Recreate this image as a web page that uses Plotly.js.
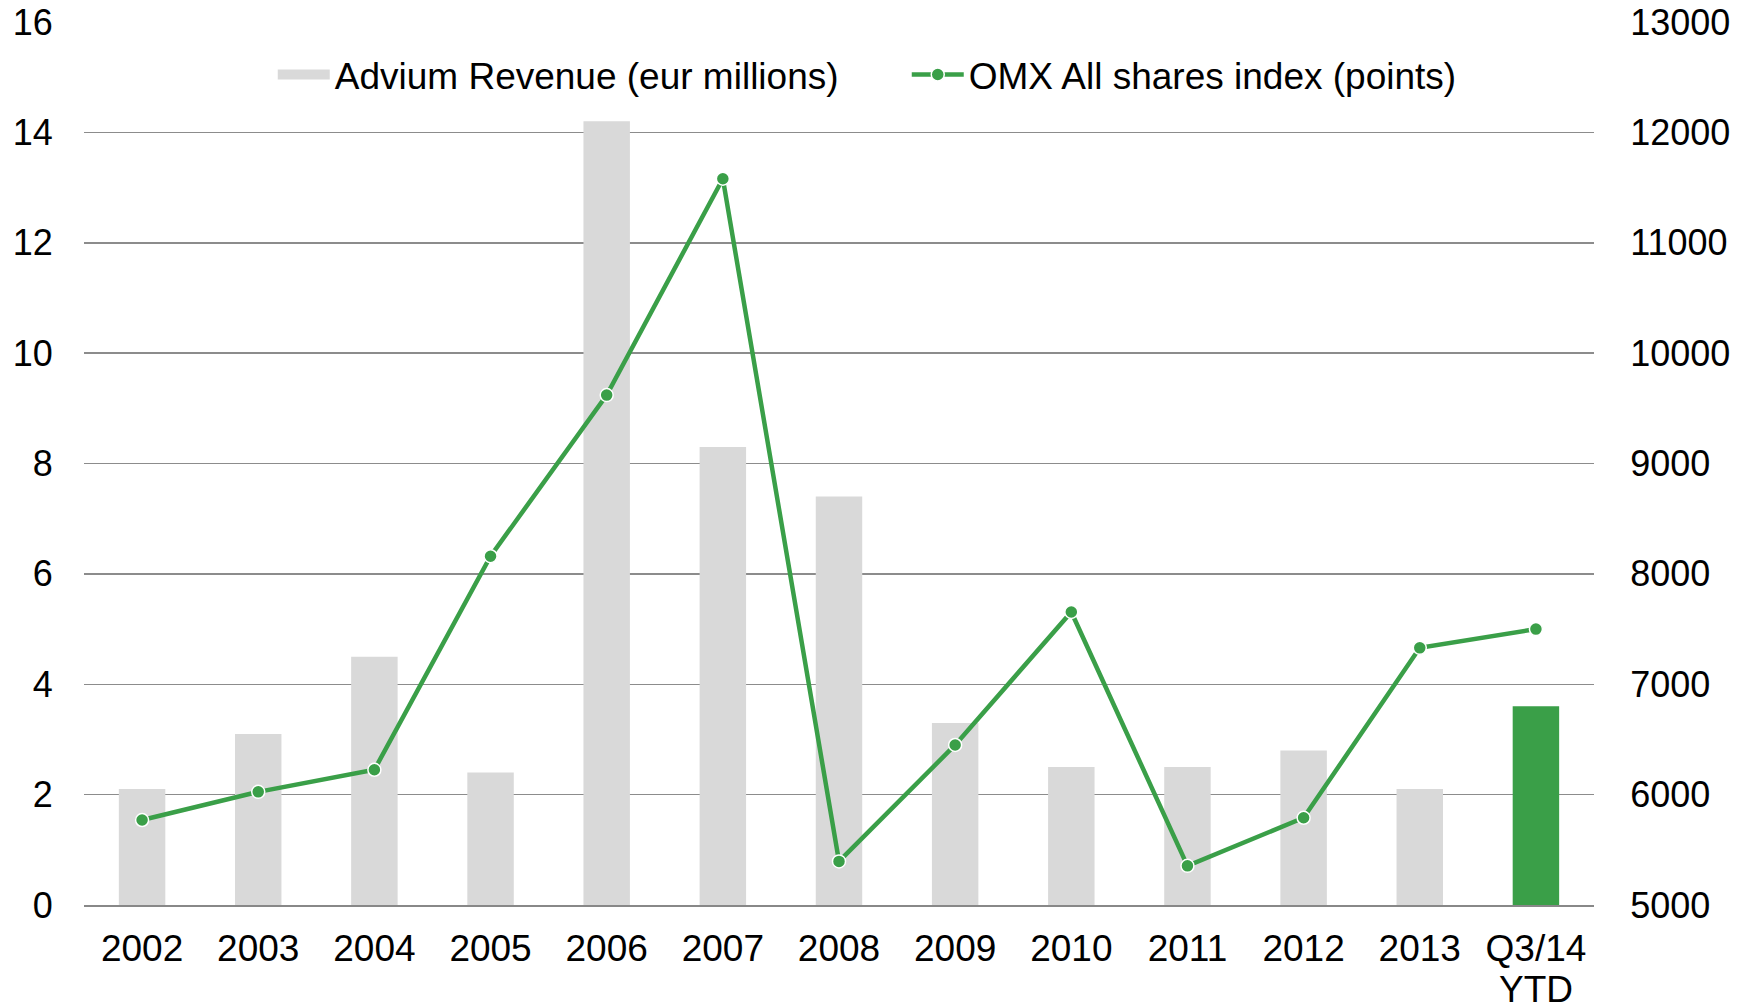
<!DOCTYPE html>
<html>
<head>
<meta charset="utf-8">
<script src="https://cdn.plot.ly/plotly-3.0.1.min.js"></script>
<style>html,body{margin:0;padding:0;background:#fff;}#chart{width:1752px;height:1008px;}</style>
</head>
<body>
<div id="chart"></div>
<script>
const categories = ["2002","2003","2004","2005","2006","2007","2008","2009","2010","2011","2012","2013","Q3/14"];
const lastLabelSecondLine = "YTD";
const revenue = [2.1, 3.1, 4.5, 2.4, 14.2, 8.3, 7.4, 3.3, 2.5, 2.5, 2.8, 2.1, 3.6];
const omxIndex = [5770, 6025, 6225, 8160, 9620, 11580, 5395, 6450, 7655, 5355, 5790, 7330, 7500];
const leftTicks = [0, 2, 4, 6, 8, 10, 12, 14, 16];
const rightTicks = [5000, 6000, 7000, 8000, 9000, 10000, 11000, 12000, 13000];
const seriesNames = ["Advium Revenue (eur millions)", "OMX All shares index (points)"];

const grey = '#d9d9d9';
const green = '#3a9f48';
const barColors = categories.map((c, i) => i === categories.length - 1 ? green : grey);

const font = {family: 'Liberation Sans, Arial, sans-serif', size: 37, color: '#000'};
const yfont = {family: 'Liberation Sans, Arial, sans-serif', size: 36, color: '#000'};

const traces = [
  {
    type: 'bar', x: categories, y: revenue, name: seriesNames[0],
    marker: {color: barColors}, yaxis: 'y', showlegend: false
  },
  {
    // legend-only swatch for the revenue series
    type: 'scatter', mode: 'lines', x: [null], y: [null], name: seriesNames[0],
    line: {color: grey, width: 18}, yaxis: 'y', showlegend: true
  },
  {
    type: 'scatter', mode: 'lines+markers', x: categories, y: omxIndex,
    name: seriesNames[1], yaxis: 'y2',
    line: {color: green, width: 4.5},
    marker: {color: green, size: 13, line: {color: '#fff', width: 1.5}}
  }
];

const layout = {
  width: 1752, height: 1008,
  margin: {l: 84, r: 158, t: 22, b: 103},
  paper_bgcolor: '#fff', plot_bgcolor: '#fff',
  font: font,
  bargap: 0.6,
  showlegend: true,
  legend: {orientation: 'h', x: 0.125, xanchor: 'left', y: 0.94, yanchor: 'middle',
           font: font, bgcolor: 'rgba(0,0,0,0)', itemwidth: 52,
           entrywidth: 567, entrywidthmode: 'pixels'},
  xaxis: {
    type: 'category', range: [-0.5, categories.length - 0.5], showgrid: false, zeroline: false,
    showline: true, linecolor: '#888', linewidth: 2,
    ticks: 'outside', ticklen: 10, tickcolor: 'rgba(0,0,0,0)',
    tickfont: font
  },
  yaxis: {
    range: [0, 16], tickvals: leftTicks, showgrid: true, gridcolor: '#8c8c8c', gridwidth: 1.5,
    zeroline: false, showline: false, ticks: 'outside', ticklen: 23, tickcolor: 'rgba(0,0,0,0)',
    tickfont: yfont
  },
  yaxis2: {
    range: [5000, 13000], tickvals: rightTicks, tickformat: 'd', overlaying: 'y', side: 'right',
    showgrid: false, zeroline: false, showline: false,
    ticks: 'outside', ticklen: 28, tickcolor: 'rgba(0,0,0,0)', tickfont: yfont
  },
  annotations: [{
    x: categories[categories.length - 1], xref: 'x', y: 0, yref: 'paper',
    yanchor: 'middle', yshift: -84, height: 36, valign: 'middle',
    text: lastLabelSecondLine, showarrow: false, font: font
  }]
};

Plotly.newPlot('chart', traces, layout, {displayModeBar: false, staticPlot: true});
</script>
</body>
</html>
